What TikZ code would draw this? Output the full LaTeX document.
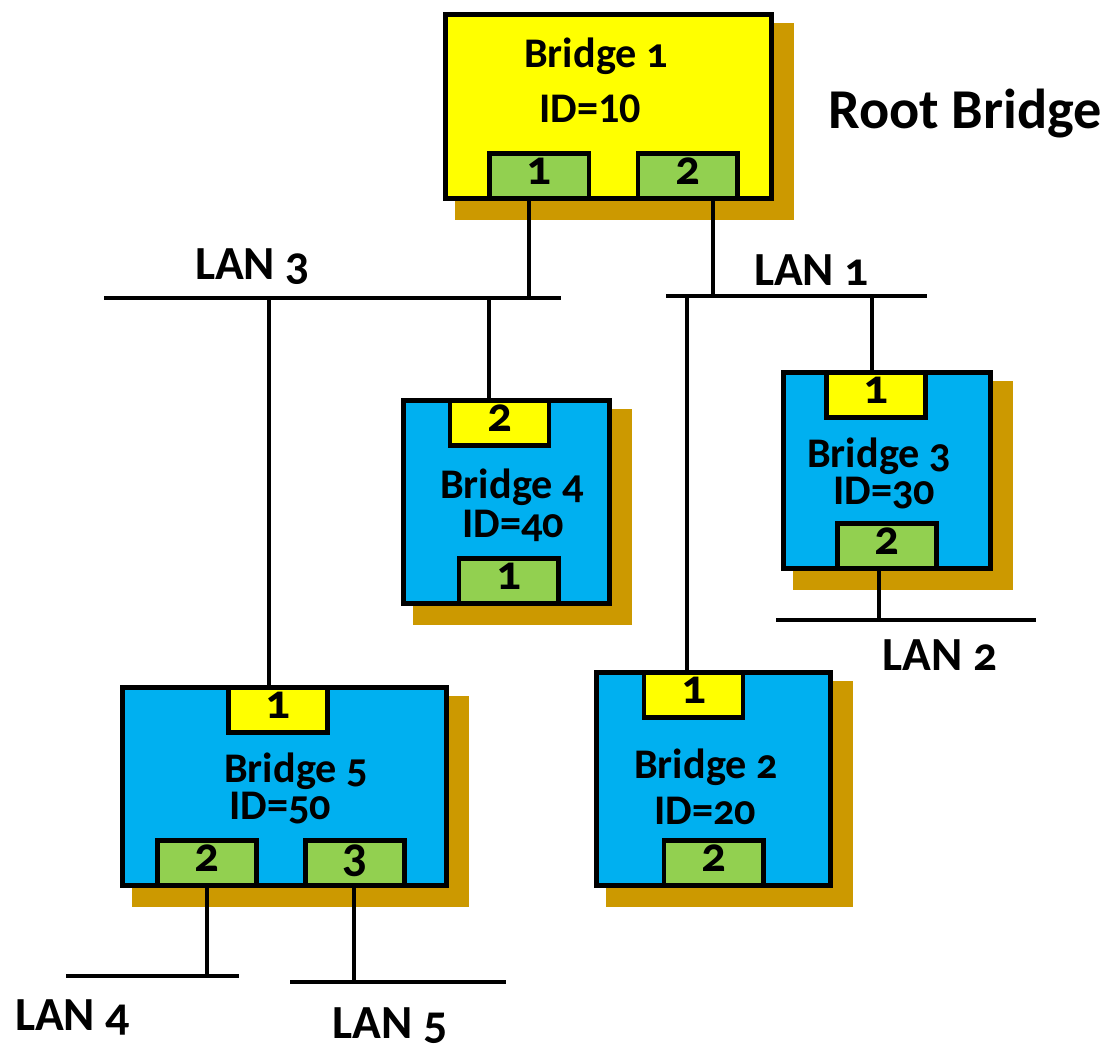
\documentclass[tikz,border=0pt]{standalone}
\usepackage{fontspec}
\setmainfont{Carlito}[Numbers=OldStyle]
\usetikzlibrary{backgrounds}
\definecolor{bryellow}{HTML}{FFFF00}
\definecolor{brblue}{HTML}{00B0F0}
\definecolor{portgreen}{HTML}{92D050}
\definecolor{brshadow}{HTML}{CC9900}
\newcommand{\linnum}[1]{{\addfontfeatures{Numbers=Lining}#1}}
\tikzset{
  bridge/.style={draw, line width=1.5pt, inner sep=0pt},
  port/.style={draw, line width=1.4pt, inner sep=0pt, minimum width=0.99cm, minimum height=0.45cm,
    text height=1ex, text depth=0pt, font=\bfseries\fontsize{14}{14}\selectfont},
  lan/.style={line width=1.3pt},
  wire/.style={line width=1.3pt},
  btext/.style={anchor=base, inner sep=0pt, font=\bfseries\fontsize{12}{14}\selectfont},
  lantext/.style={anchor=base, inner sep=0pt, font=\bfseries\fontsize{13.5}{15}\selectfont}
}
\begin{document}
\begin{tikzpicture}[x=0.01cm, y=-0.01cm, line cap=butt]
\useasboundingbox (0,0) rectangle (1107,1048);
% bridges
\node[bridge, fill=bryellow, minimum width=3.255cm, minimum height=1.835cm] (b1) at (608.5,106.5) {};
\node[bridge, fill=brblue, minimum width=2.055cm, minimum height=2.025cm] (b4) at (506.5,502) {};
\node[bridge, fill=brblue, minimum width=2.065cm, minimum height=1.955cm] (b3) at (887,470.5) {};
\node[bridge, fill=brblue, minimum width=2.335cm, minimum height=2.125cm] (b2) at (713.5,779) {};
\node[bridge, fill=brblue, minimum width=3.235cm, minimum height=1.975cm] (b5) at (284.5,786.5) {};
% shadows
\begin{scope}[on background layer]
  \foreach \b in {b1,b2,b3,b4,b5}
    \fill[brshadow] ([shift={(12,11)}]\b.north west) rectangle ([shift={(20,19)}]\b.south east);
\end{scope}
% ports
\node[port, fill=portgreen, anchor=south] (b1p1) at ([xshift=-0.69cm]b1.south) {1};
\node[port, fill=portgreen, anchor=south] (b1p2) at ([xshift=0.79cm]b1.south) {2};
\node[port, fill=bryellow, anchor=north] (b4p2) at ([xshift=-0.07cm]b4.north) {2};
\node[port, fill=portgreen, anchor=south] (b4p1) at ([xshift=0.02cm]b4.south) {1};
\node[port, fill=bryellow, anchor=north] (b3p1) at ([xshift=-0.11cm]b3.north) {1};
\node[port, fill=portgreen, anchor=south] (b3p2) at (b3.south) {2};
\node[port, fill=bryellow, anchor=north] (b2p1) at ([xshift=-0.2cm]b2.north) {1};
\node[port, fill=portgreen, anchor=south] (b2p2) at (b2.south) {2};
\node[port, fill=bryellow, anchor=north] (b5p1) at ([xshift=-0.065cm]b5.north) {1};
\node[port, fill=portgreen, anchor=south] (b5p2) at ([xshift=-0.775cm]b5.south) {2};
\node[port, fill=portgreen, anchor=south] (b5p3) at ([xshift=0.705cm]b5.south) {3};
% bridge names
\node[btext] (b1t) at (596,67) {Bridge 1};
\node[btext] (b1id) at (590,122) {ID=\linnum{10}};
\node[btext] (b4t) at (512,498) {Bridge 4};
\node[btext] (b4id) at (513,537) {ID=40};
\node[btext] (b3t) at (879,467) {Bridge 3};
\node[btext] (b3id) at (884,504) {ID=30};
\node[btext] (b2t) at (706,778) {Bridge 2};
\node[btext] (b2id) at (705,824) {ID=20};
\node[btext] (b5t) at (296,782) {Bridge 5};
\node[btext] (b5id) at (280,819) {ID=50};
\node[anchor=base, inner sep=0pt, font=\bfseries\fontsize{16}{18}\selectfont] (root) at (965,128) {Root Bridge};
% LAN segments
\coordinate (lan3w) at (104,298); \coordinate (lan3e) at (561,298);
\coordinate (lan1w) at (666,296); \coordinate (lan1e) at (927,296);
\coordinate (lan2w) at (776,620); \coordinate (lan2e) at (1036,620);
\coordinate (lan4w) at (66,976); \coordinate (lan4e) at (239,976);
\coordinate (lan5w) at (290,982); \coordinate (lan5e) at (506,982);
\draw[lan] (lan3w) -- (lan3e);
\draw[lan] (lan1w) -- (lan1e);
\draw[lan] (lan2w) -- (lan2e);
\draw[lan] (lan4w) -- (lan4e);
\draw[lan] (lan5w) -- (lan5e);
\node[lantext] (lan3t) at (252.5,279) {LAN 3};
\node[lantext] (lan1t) at (811.5,285) {LAN 1};
\node[lantext] (lan2t) at (940,670) {LAN 2};
\node[lantext] (lan4t) at (72.5,1030) {LAN 4};
\node[lantext] (lan5t) at (390,1038) {LAN 5};
% taps
\coordinate (t3a) at (529,298); \coordinate (t3b) at (489,298); \coordinate (t3c) at (269,298);
\coordinate (t1a) at (713,296); \coordinate (t1b) at (872,296); \coordinate (t1c) at (687,296);
\coordinate (t2a) at (879,620); \coordinate (t4a) at (207,976); \coordinate (t5a) at (354,982);
\draw[wire] (t3a |- b1p1.south) -- (t3a);
\draw[wire] (t1a |- b1p2.south) -- (t1a);
\draw[wire] (t3b) -- (t3b |- b4p2.north);
\draw[wire] (t3c) -- (t3c |- b5p1.north);
\draw[wire] (t1b) -- (t1b |- b3p1.north);
\draw[wire] (t1c) -- (t1c |- b2p1.north);
\draw[wire] (t2a |- b3p2.south) -- (t2a);
\draw[wire] (t4a |- b5p2.south) -- (t4a);
\draw[wire] (t5a |- b5p3.south) -- (t5a);
\end{tikzpicture}
\end{document}
